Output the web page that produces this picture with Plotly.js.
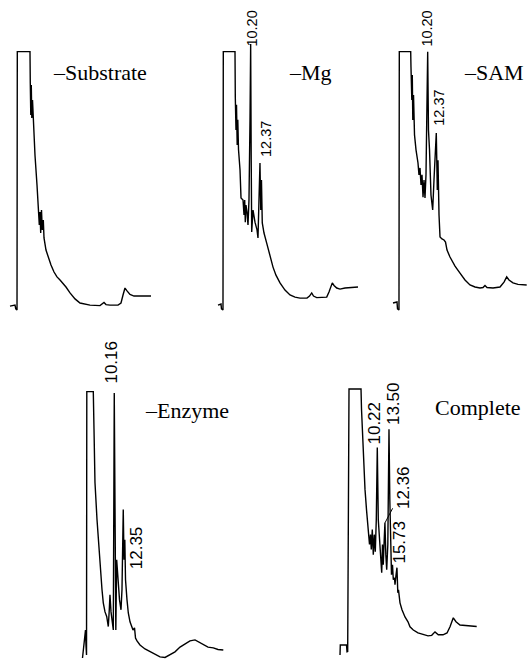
<!DOCTYPE html>
<html><head><meta charset="utf-8">
<script src="https://cdn.plot.ly/plotly-3.0.1.min.js"></script>
<style>html,body{margin:0;padding:0;background:#fff}#chart{width:529px;height:659px}</style>
</head><body><div id="chart"></div>
<script>
// ---- DATA: retention time (min) and detector response (% of full scale) ----
const substrateTime   = [2.07,3.26,3.45,3.74,3.81,6.83,6.9,7.02,7.14,7.26,7.43,7.62,8.02,8.5,8.81,9.05,9.21,9.38,9.57,9.76,10.0,10.17,10.64,11.19,11.83,12.55,13.26,13.98,14.45,15.4,16.36,17.55,18.74,21.12,23.5,24.1,24.45,24.93,25.88,27.79,28.5,28.98,29.45,29.93,30.64,31.6,35.64];
const substrateSignal = [1.5,1.9,0.4,0,100,100,87.9,75.5,87.1,74.3,81.3,73.6,60,48.4,40.6,32.9,37.9,29.8,38.7,31,34.8,27.9,23.2,20.1,17.4,14.7,12.8,11.6,10.8,8.9,6.6,4.3,2.7,1.9,1.7,2.3,2.9,2.1,1.9,1.9,2.7,5.8,8.5,7.4,6.0,5.4,5.4];

const mgTime   = [2.59,3.29,3.4,3.75,3.82,6.55,6.62,6.78,6.9,7.06,7.2,7.37,7.72,7.95,8.42,8.65,8.81,8.95,9.11,9.35,9.58,9.81,10.05,10.2,10.33,10.44,10.75,11.21,11.68,11.91,12.14,12.37,12.56,12.72,12.91,13.31,13.94,14.71,15.41,16.1,17.04,18.2,19.37,20.54,21.7,23.33,23.92,24.43,24.85,25.59,27.93,28.46,29.23,29.63,30.26,31.03,32.2,35.22];
const mgSignal = [1.9,2.3,0.4,0,100,100,82.5,69.7,79.4,63.9,73.6,62,54.2,43.4,42.6,36.8,42.6,34,40.6,37.9,32.9,42.6,73.6,103,58,30.2,38.7,34,31,27.9,42.6,56.9,38.7,50.3,33.7,29.8,25.9,20.5,16.6,13.5,10.5,7.7,5.8,5.0,4.6,4.6,5.4,6.6,5.4,4.8,5.0,7.0,10.5,9.5,8.5,8.1,8.5,8.9];

const samTime   = [1.44,2.45,2.58,2.95,3.03,5.91,5.98,6.19,6.31,6.44,6.62,6.87,7.25,7.75,8.0,8.26,8.51,8.76,9.02,9.27,9.52,9.77,10.03,10.2,10.4,10.66,11.03,11.46,11.79,12.04,12.37,12.63,12.8,13.06,13.31,13.81,14.32,14.7,15.08,15.83,17.1,18.36,19.62,20.88,22.15,23.41,24.17,24.67,25.18,26.69,28.46,29.47,30.15,30.73,31.74,33.0,35.2];
const samSignal = [2.7,3.1,0.4,0,100,100,94.1,81.3,91,73.6,83.2,67.8,62,56.9,52.3,55,48.4,52.3,43.7,50.3,43.4,52.3,81.3,100,69.7,62,44.5,38.7,50.3,58,68.5,46.5,58,36.8,28.3,27.5,27.1,26.3,23.2,20.5,17,14.3,11.6,9.7,8.9,8.5,8.7,9.5,8.7,8.5,8.9,10.8,12.8,11.6,10.5,9.9,9.7];

const enzymeTime   = [2.43,2.68,2.92,3.16,3.28,3.41,3.48,5.06,5.23,5.47,5.96,6.69,7.18,7.49,7.91,8.32,8.71,8.95,9.12,9.37,9.61,9.93,10.16,10.34,10.54,10.75,11.07,11.44,11.8,12.04,12.35,12.53,12.73,12.9,13.26,13.58,13.99,14.4,14.72,15.09,15.33,15.69,16.42,17.64,18.86,20.49,21.29,22.51,23.72,24.94,26.16,27.79,28.59,29.81,30.78,31.82,32.97,34.26,35.4,36.69];
const enzymeSignal = [0,3,6.8,10.5,4.9,1.1,100,100,86,65.9,52,34.4,25.6,20.7,17.3,15.6,11.8,18.1,23.7,17.3,13.6,10.5,99.5,52,10.5,36.9,27.5,21.8,18.1,25.6,55.7,36.9,44.4,29.4,21.8,16.9,13.6,11.8,10.5,11.3,7.5,6.4,4.9,3.4,2.3,1.1,0.4,0.2,1.1,2.3,4.1,5.6,6.4,6.8,6.0,4.9,4.1,3.8,3.2,3.0];

const completeTime   = [-0.22,-0.14,1.6,1.74,1.93,2.3,5.66,5.8,6.3,6.78,7.2,7.7,8.04,8.32,8.54,8.82,9.1,9.38,9.66,9.94,10.22,10.5,10.78,11.12,11.46,11.68,11.9,12.16,12.36,12.61,12.86,13.17,13.5,13.73,13.98,14.2,14.48,14.71,15.04,15.18,15.46,15.73,15.97,16.16,16.58,17.14,17.98,18.82,19.38,20.31,21.62,23.11,24.43,25.46,26.39,27.31,28.63,29.75,30.59,31.51,32.27,33.39,35.07,38.07];
const completeSignal = [1.1,4.9,4.9,2.3,2.4,101,101,93.4,77.2,63.3,55.7,49.3,42.6,46.3,40.7,48.2,38.8,46.3,39.9,52,79,52,45.6,36.9,32,42.6,35,44.4,50.8,38.8,33.1,42.6,85.9,59.5,40.7,31.3,35,29.4,30.1,27.5,31,33.9,24.5,25.6,20.7,18.1,15.4,13.6,11.7,10.5,9.4,8.7,8.3,8.5,9.8,8.7,8.7,9.4,11.7,15.1,13.6,12.4,12.1,11.8];

// panel names and labelled peaks (retention times)
const panelNames = ['\u2013Substrate','\u2013Mg','\u2013SAM','\u2013Enzyme','Complete'];
const mgPeaks       = ['10.20','12.37'];
const samPeaks      = ['10.20','12.37'];
const enzymePeaks   = ['10.16','12.35'];
const completePeaks = ['10.22','13.50','12.36','15.73'];

// ---- LAYOUT / STYLE ----
const W = 529, H = 659;
// pixel of t=0, pixels per minute, shown time range
const xGeom = [
  {z:1.3,   s:4.2,  r:[0,38]},
  {z:206.9, s:4.29, r:[0,37]},
  {z:387.3, s:3.96, r:[0,35.5]},
  {z:72.5,  s:4.11, r:[0,38]},
  {z:340.8, s:3.57, r:[-1,39]}
];
const topY = {range:[-3,120], domain:[1-317.75/H, 1]};
const botY = {range:[-0.38,124], domain:[0, 1-327.7/H]};

const series = [
  [substrateTime, substrateSignal],
  [mgTime, mgSignal],
  [samTime, samSignal],
  [enzymeTime, enzymeSignal],
  [completeTime, completeSignal]
];

const traces = series.map((s,i)=>({
  x:s[0], y:s[1], type:'scatter', mode:'lines',
  xaxis: i===0?'x':'x'+(i+1), yaxis: i===0?'y':'y'+(i+1),
  line:{color:'#000', width:1.4, shape:'linear'}, hoverinfo:'skip', showlegend:false
}));

const layout = {
  width:W, height:H, margin:{l:0,r:0,t:0,b:0},
  paper_bgcolor:'#fff', plot_bgcolor:'rgba(0,0,0,0)', showlegend:false,
  annotations:[]
};
xGeom.forEach((g,i)=>{
  const k = i===0?'':String(i+1);
  layout['xaxis'+k] = {visible:false, range:g.r, domain:[(g.z+g.r[0]*g.s)/W, Math.min(1,(g.z+g.r[1]*g.s)/W)], anchor:'y'+k, fixedrange:true};
  const yg = i<3?topY:botY;
  layout['yaxis'+k] = {visible:false, range:yg.range, domain:yg.domain, anchor:'x'+k, fixedrange:true};
});

// panel name labels (paper pixel centres)
const namePos = [[100,72],[310,72],[494,72],[187,410.5],[478,407]];
panelNames.forEach((t,i)=>{
  layout.annotations.push({text:t, xref:'paper', yref:'paper', x:namePos[i][0]/W, y:1-namePos[i][1]/H,
    xanchor:'center', yanchor:'middle', showarrow:false,
    font:{family:'Liberation Serif, Times New Roman, serif', size:22, color:'#000'}});
});

// peak labels: position offsets (style)
const peakGroups = [
  {peaks:mgPeaks, ax:'2', size:14.5, pos:[{y:108.8,dx:1},{y:66.2,dx:6}]},
  {peaks:samPeaks, ax:'3', size:14.5, pos:[{y:108.8,dx:-1},{y:78.2,dx:2.5}]},
  {peaks:enzymePeaks, ax:'4', size:17, pos:[{y:111.2,dx:-2.5},{y:41.3,dx:14}]},
  {peaks:completePeaks, ax:'5', size:17, pos:[{y:88.4,dx:-2.3},{y:95.7,dx:4},{y:50.7,arrow:[18.7,-35.5]},{y:43.7,dx:3}]}
];
peakGroups.forEach(g=>{
  g.peaks.forEach((p,j)=>{
    const ps = g.pos[j];
    const a = {text:p, xref:'x'+g.ax, yref:'y'+g.ax, x:parseFloat(p), y:ps.y, textangle:-90,
      xanchor:'center', yanchor:'middle',
      font:{family:'Liberation Sans, Arial, sans-serif', size:g.size, color:'#000'}};
    if(ps.arrow){
      a.showarrow = true; a.arrowhead = 0; a.arrowwidth = 1; a.arrowcolor = '#000';
      a.ax = ps.arrow[0]; a.ay = ps.arrow[1]; a.standoff = 0;
    } else {
      a.showarrow = false; a.xshift = ps.dx;
    }
    layout.annotations.push(a);
  });
});

Plotly.newPlot('chart', traces, layout, {staticPlot:true, displayModeBar:false});
</script></body></html>
